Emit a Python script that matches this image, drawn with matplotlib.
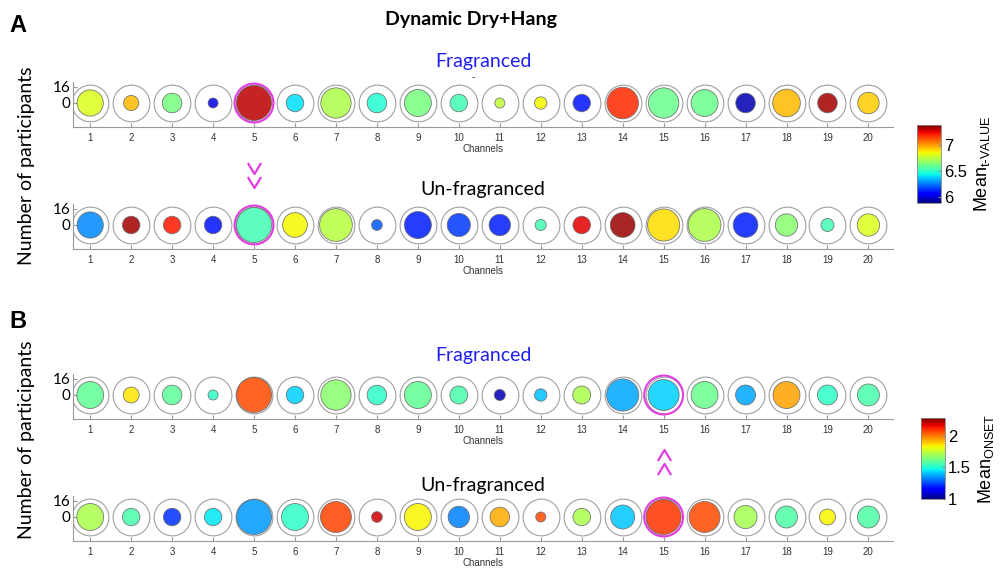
import numpy as np
import matplotlib.pyplot as plt
from matplotlib.path import Path
from matplotlib.colors import Normalize
from matplotlib.cm import ScalarMappable
from matplotlib.transforms import blended_transform_factory

channels = np.arange(1, 21)

# panel A: mean t-value per channel and number of participants (0-16)
a_frag_val = [6.80, 6.95, 6.62, 6.02, 7.30, 6.40, 6.72, 6.47, 6.62, 6.53,
              6.75, 6.85, 6.10, 7.18, 6.60, 6.60, 5.95, 6.95, 7.33, 6.92]
a_frag_n = [9, 3, 5, 1.3, 16, 4, 12, 5, 9.5, 4, 1.3, 2, 4, 13, 12, 9.5, 5, 10, 5, 6]
a_unfr_val = [6.27, 7.33, 7.20, 6.10, 6.53, 6.85, 6.74, 6.20, 6.11, 6.15,
              6.11, 6.53, 7.25, 7.34, 6.89, 6.72, 6.11, 6.65, 6.53, 6.80]
a_unfr_n = [9, 4, 4, 4, 16, 8, 14, 1.5, 9.5, 7, 6, 1.6, 4, 8, 13.5, 14, 8, 6.5, 2.2, 6.5]

# panel B: mean onset
b_frag_val = [1.60, 1.85, 1.59, 1.52, 2.06, 1.42, 1.66, 1.52, 1.60, 1.56,
              1.06, 1.40, 1.71, 1.37, 1.42, 1.61, 1.37, 1.94, 1.52, 1.56]
b_frag_n = [9.5, 3.3, 5, 1.3, 16, 4, 12, 5, 9.5, 4.2, 1.6, 2, 4.2, 13.5, 12.5, 9.5, 5.2, 9.5, 5.2, 6.3]
b_unfr_val = [1.71, 1.56, 1.22, 1.45, 1.35, 1.52, 2.07, 2.19, 1.83, 1.32,
              1.93, 2.06, 1.71, 1.41, 2.09, 2.06, 1.70, 1.57, 1.83, 1.57]
b_unfr_n = [9.5, 4, 4, 4, 16, 9.5, 12.5, 1.5, 9.5, 6, 5, 1.3, 4, 7.5, 16, 12.5, 7, 6.3, 3.3, 6.3]

highlight_a = 5
highlight_b = 15

norm_a = Normalize(5.88, 7.38)
norm_b = Normalize(1.0, 2.28)

OUTER = 700
FULL = 635
MAGENTA = '#e23ee2'
title_font = ['Lato', 'DejaVu Sans']
num_font = ['Liberation Sans', 'DejaVu Sans']

fig = plt.figure(figsize=(10, 5.73), dpi=100)
H = 573.0


def px_axes(top, bottom, left=73, right=893):
    return fig.add_axes([left / 1000, 1 - bottom / H, (right - left) / 1000, (bottom - top) / H])


def draw_row(ax, vals, counts, norm, highlight):
    zeros = np.zeros(len(channels))
    ax.scatter(channels, zeros, s=OUTER, facecolors='white', edgecolors='#a0a0a0',
               linewidths=0.8, zorder=1)
    ax.scatter(channels, zeros, s=np.array(counts) * FULL / 16, c=vals, cmap='jet', norm=norm,
               alpha=0.86, edgecolors='#666666', linewidths=0.6, zorder=2)
    ax.scatter([highlight], [0], s=OUTER * 1.12, facecolors='none', edgecolors=MAGENTA,
               linewidths=1.5, zorder=3)
    ax.set_xlim(0.58, 20.6)
    ax.set_ylim(-24, 21)
    ax.set_xticks(channels)
    ax.set_xticklabels([str(c) for c in channels], fontsize=7, family=num_font, color='#333333')
    ax.set_yticks([0, 16])
    ax.set_yticklabels(['0', '16'], fontsize=11, family=title_font)
    ax.tick_params(axis='x', direction='in', length=3, color='#999999', pad=4)
    ax.tick_params(axis='y', direction='in', length=3, color='#999999', pad=2)
    ax.set_xlabel('Channels', fontsize=7, family=num_font, labelpad=1, color='#333333')
    for s in ['top', 'right']:
        ax.spines[s].set_visible(False)
    for s in ['left', 'bottom']:
        ax.spines[s].set_color('#999999')
        ax.spines[s].set_linewidth(0.8)


def chevrons(ax, ch, ys, up):
    pts = [(-0.6, -0.5), (0, 0.5), (0.6, -0.5)] if up else [(-0.6, 0.5), (0, -0.5), (0.6, 0.5)]
    mk = Path(pts, [Path.MOVETO, Path.LINETO, Path.LINETO])
    tr = blended_transform_factory(ax.transData, fig.transFigure)
    for y in ys:
        ax.plot([ch], [1 - y / H], marker=mk, markersize=9.5, mfc='none', mec=MAGENTA,
                mew=1.6, linestyle='none', transform=tr, clip_on=False)


ax_a1 = px_axes(82, 127)
ax_a2 = px_axes(204, 249)
ax_b1 = px_axes(374, 419)
ax_b2 = px_axes(496, 541)

draw_row(ax_a1, a_frag_val, a_frag_n, norm_a, highlight_a)
draw_row(ax_a2, a_unfr_val, a_unfr_n, norm_a, highlight_a)
draw_row(ax_b1, b_frag_val, b_frag_n, norm_b, highlight_b)
draw_row(ax_b2, b_unfr_val, b_unfr_n, norm_b, highlight_b)

chevrons(ax_a2, highlight_a, [168, 182], up=False)
chevrons(ax_b1, highlight_b, [455, 469], up=True)

# row titles
fig.text(0.483, 1 - 61 / H, 'Fragranced', ha='center', va='center', fontsize=14,
         color='#1f1fef', family=title_font)
fig.text(0.473, 1 - 77 / H, '-', ha='center', va='center', fontsize=7, color='#444444')
fig.text(0.483, 1 - 189 / H, 'Un-fragranced', ha='center', va='center', fontsize=14,
         color='black', family=title_font)
fig.text(0.483, 1 - 356 / H, 'Fragranced', ha='center', va='center', fontsize=14,
         color='#1f1fef', family=title_font)
fig.text(0.483, 1 - 485 / H, 'Un-fragranced', ha='center', va='center', fontsize=14,
         color='black', family=title_font)

fig.text(0.471, 1 - 20 / H, 'Dynamic Dry+Hang', ha='center', va='center', fontsize=14,
         fontweight='bold', family=title_font)
fig.text(0.018, 1 - 26 / H, 'A', ha='center', va='center', fontsize=17, fontweight='bold',
         family=['Liberation Sans', 'DejaVu Sans'])
fig.text(0.018, 1 - 322 / H, 'B', ha='center', va='center', fontsize=17, fontweight='bold',
         family=['Liberation Sans', 'DejaVu Sans'])

fig.text(0.027, 1 - 166 / H, 'Number of participants', rotation=90, ha='center', va='center',
         fontsize=14, family=title_font)
fig.text(0.027, 1 - 440 / H, 'Number of participants', rotation=90, ha='center', va='center',
         fontsize=14, family=title_font)

# colorbars
cax_a = fig.add_axes([917 / 1000, 1 - 203 / H, 24 / 1000, 78 / H])
cb_a = fig.colorbar(ScalarMappable(norm=norm_a, cmap='jet'), cax=cax_a)
cb_a.set_ticks([6, 6.5, 7])
cb_a.set_ticklabels(['6', '6.5', '7'], fontsize=12, family=num_font)
cb_a.set_label(r'Mean$_{\mathregular{t\text{-}VALUE}}$', fontsize=13, family=num_font, labelpad=4)

cax_b = fig.add_axes([921 / 1000, 1 - 499 / H, 24 / 1000, 81 / H])
cb_b = fig.colorbar(ScalarMappable(norm=norm_b, cmap='jet'), cax=cax_b)
cb_b.set_ticks([1, 1.5, 2])
cb_b.set_ticklabels(['1', '1.5', '2'], fontsize=12, family=num_font)
cb_b.set_label(r'Mean$_{\mathregular{ONSET}}$', fontsize=13, family=num_font, labelpad=4)

for cb in (cb_a, cb_b):
    cb.outline.set_edgecolor('#888888')
    cb.outline.set_linewidth(0.6)
    cb.ax.tick_params(direction='in', length=2, color='#888888', pad=2)

fig.savefig('out.png', dpi=100)
